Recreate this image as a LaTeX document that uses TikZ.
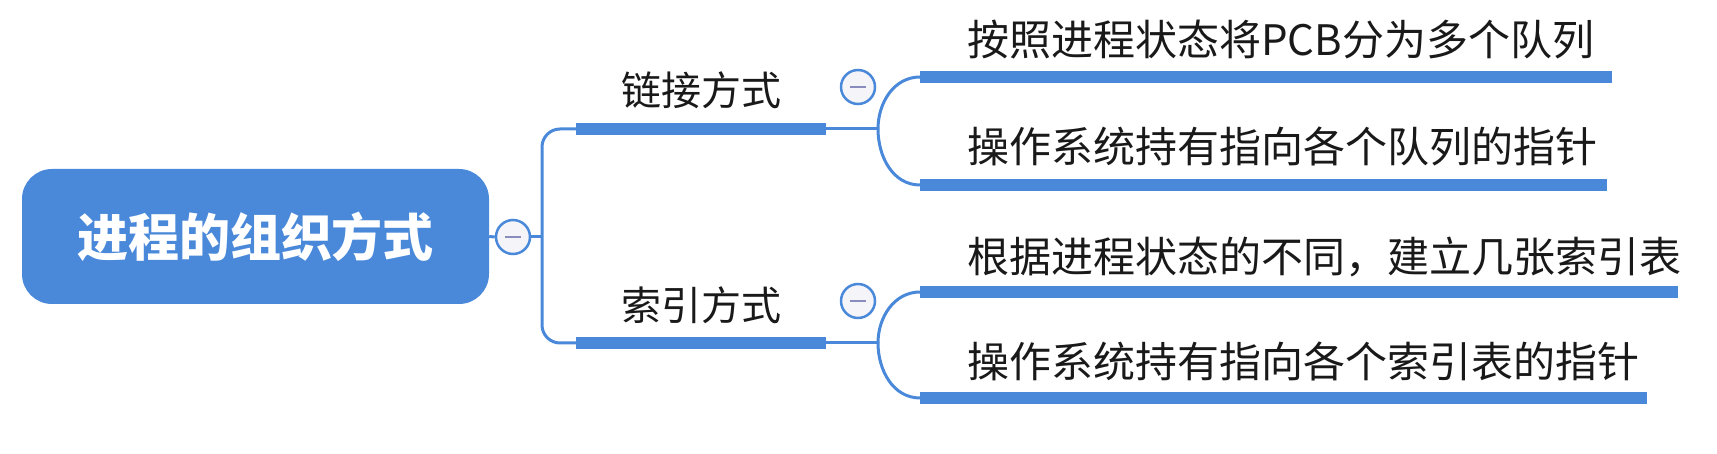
\documentclass[tikz,border=0pt]{standalone}
\usepackage{fontspec}
\setmainfont{Noto Sans CJK SC}
\usetikzlibrary{positioning}
\definecolor{mapblue}{RGB}{74,137,218}
\definecolor{dotfill}{RGB}{245,245,249}
\definecolor{dotbar}{RGB}{138,140,190}

\tikzset{
  rootbox/.style={fill=mapblue, rounded corners=30pt, minimum width=467pt,
    minimum height=135pt, inner sep=0pt, text=white,
    font=\fontsize{51}{60}\selectfont\bfseries},
  midtext/.style={font=\fontsize{40}{48}\selectfont, text=black!90, inner sep=0pt},
  leaftext/.style={font=\fontsize{42}{50}\selectfont, anchor=west, text=black!90, inner sep=0pt},
  twig/.style={draw=mapblue, line width=3pt},
  bar/.style={draw=mapblue, line width=12pt},
  foldbtn/.style={circle, draw=mapblue, line width=2.5pt, fill=dotfill,
    minimum size=34pt, inner sep=0pt,
    path picture={\draw[dotbar, line width=2.5pt]
      ([xshift=-8pt]path picture bounding box.center) --
      ([xshift=8pt]path picture bounding box.center);}}
}

\begin{document}
\begin{tikzpicture}[x=1pt, y=-1pt]
\useasboundingbox (0,0) rectangle (1717,454);

% root and its button
\node[rootbox] (root) at (255.5,236.5) {进程的组织方式};
\node[foldbtn] (rootdot) at (513,237) {};
\coordinate (trunk) at (542,237);

% second level
\coordinate (linkstart) at (576,129);
\coordinate (linkend) at (826,129);
\coordinate (linkfork) at (878,129);
\coordinate (indexstart) at (576,343);
\coordinate (indexend) at (826,343);
\coordinate (indexfork) at (878,343);
\node[midtext] (link) at (701,90) {链接方式};
\node[midtext] (index) at (701,305) {索引方式};
\node[foldbtn] (linkdot) at (858,87) {};
\node[foldbtn] (indexdot) at (858,301) {};

% leaves
\node[leaftext] (queue) at (967,40) {按照进程状态将PCB分为多个队列};
\node[leaftext] (qptr) at (967,146) {操作系统持有指向各个队列的指针};
\node[leaftext] (table) at (967,257) {根据进程状态的不同，建立几张索引表};
\node[leaftext] (tptr) at (967,361) {操作系统持有指向各个索引表的指针};
\coordinate (queuea) at (920,77);   \coordinate (queueb) at (1612,77);
\coordinate (qptra) at (920,185);   \coordinate (qptrb) at (1607,185);
\coordinate (tablea) at (920,292);  \coordinate (tableb) at (1678,292);
\coordinate (tptra) at (920,398);   \coordinate (tptrb) at (1647,398);

% connectors
\draw[twig] (root.east) -- (rootdot.west);
\draw[twig] (rootdot.east) -- (trunk);
\draw[twig, rounded corners=18pt] (linkstart) -| (trunk) |- (indexstart);
\draw[bar] (linkstart) -- (linkend);
\draw[bar] (indexstart) -- (indexend);
\draw[twig] (linkend) -- (linkfork);
\draw[twig] (indexend) -- (indexfork);
\draw[twig] (linkfork) to[out=90, in=180] (queuea);
\draw[twig] (linkfork) to[out=-90, in=180] (qptra);
\draw[twig] (indexfork) to[out=90, in=180] (tablea);
\draw[twig] (indexfork) to[out=-90, in=180] (tptra);
\draw[bar] (queuea) -- (queueb);
\draw[bar] (qptra) -- (qptrb);
\draw[bar] (tablea) -- (tableb);
\draw[bar] (tptra) -- (tptrb);
\end{tikzpicture}
\end{document}
